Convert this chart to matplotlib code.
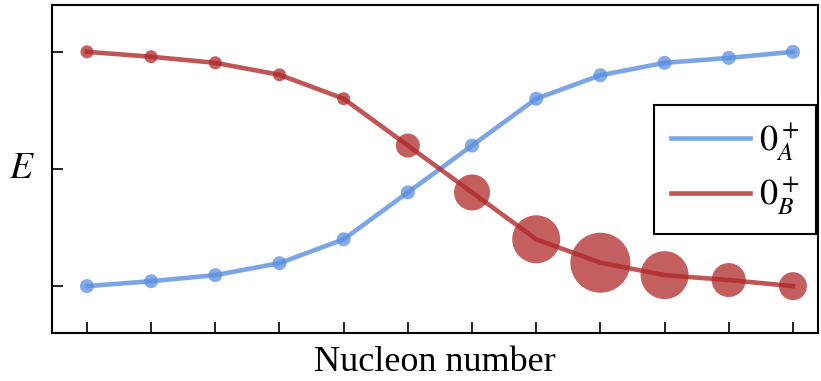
import matplotlib
matplotlib.use("Agg")
import matplotlib.pyplot as plt
import numpy as np

plt.rcParams['font.family'] = ['Liberation Serif', 'DejaVu Serif']
plt.rcParams['mathtext.fontset'] = 'stix'

# nucleon number index and level energies (arb. units)
nucleon = np.arange(12)
energy_A = [0.0, 0.021, 0.047, 0.098, 0.20, 0.40, 0.60, 0.80, 0.90, 0.953, 0.974, 1.0]
energy_B = [1.0, 0.979, 0.953, 0.902, 0.80, 0.60, 0.40, 0.20, 0.10, 0.047, 0.026, 0.0]
# marker radius (px) for the 0_B state, showing its weight
radius_B = [6.5, 6.5, 6.5, 6.5, 6.5, 12, 18, 24, 30, 24, 17, 14]

blue = '#5a8fe0'
red = '#b02a2a'

fig = plt.figure(figsize=(8.21, 3.81), dpi=100)
ax = fig.add_axes([0.0633, 0.126, 0.933, 0.861])

ax.plot(nucleon, energy_A, color=blue, alpha=0.8, lw=3.3, label=r'$0_A^+$', zorder=2)
ax.scatter(nucleon, energy_A, s=(14 * 0.72) ** 2, color=blue, alpha=0.75,
           edgecolors='none', zorder=2)
ax.plot(nucleon, energy_B, color=red, alpha=0.8, lw=3.3, label=r'$0_B^+$', zorder=3)
sizes = [(2 * r * 0.72) ** 2 for r in radius_B]
ax.scatter(nucleon, energy_B, s=sizes, color=red, alpha=0.75, edgecolors='none', zorder=3)

ax.set_xlim(-0.545, 11.39)
ax.set_ylim(-0.2, 1.2)
ax.set_xticks(nucleon)
ax.set_yticks([0, 0.5, 1])
ax.set_xticklabels([])
ax.set_yticklabels([])
ax.tick_params(direction='in', length=8, width=1.2, top=False, right=False)
for s in ax.spines.values():
    s.set_linewidth(1.5)

ax.set_xlabel('Nucleon number', fontsize=26, labelpad=6)
ax.set_ylabel(r'$E$', fontsize=27, rotation=0, labelpad=18, va='center')

leg = ax.legend(loc='upper right', bbox_to_anchor=(0.997, 0.695), fontsize=26,
                handlelength=2.2, fancybox=False, framealpha=1, edgecolor='black',
                borderaxespad=0.0, labelspacing=0.35, handletextpad=0.25,
                borderpad=0.45)
leg.get_frame().set_linewidth(1.5)

fig.savefig('out.png', dpi=100)
